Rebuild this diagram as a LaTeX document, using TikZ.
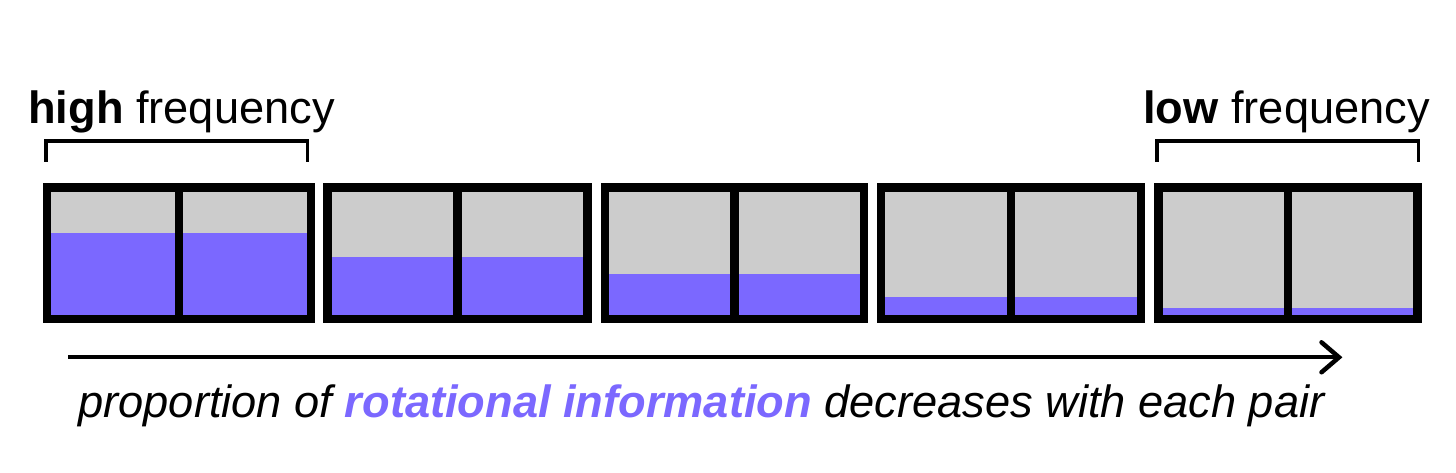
\documentclass[tikz,border=0pt]{standalone}
\usepackage{fontspec}
\setmainfont{Liberation Sans}
\definecolor{rot}{RGB}{123,104,255}
\definecolor{emptyc}{RGB}{204,204,204}
\begin{document}
\begin{tikzpicture}[x=1pt,y=-1pt,
  frame/.style={draw=black,line width=8.4pt},
  divider/.style={draw=black,line width=8.7pt},
  bracket/.style={draw=black,line width=3.6pt,line join=miter},
  label/.style={inner sep=0pt,font=\fontsize{45.2}{50}\selectfont},
  caption/.style={inner sep=0pt,font=\fontsize{45.2}{50}\selectfont\itshape},
  arrowline/.style={draw=black,line width=4pt},
  chevron/.style={draw=black,line width=4.5pt,line cap=round,line join=miter}]
\useasboundingbox (0,0) rectangle (1456,473);
\fill[white] (0,0) rectangle (1456,473);
\foreach \l/\r/\p [count=\i] in {42.7/315/233.3, 323.3/591.7/256.7, 600.7/868.3/273.7, 876.7/1145/297.3, 1154.3/1421.7/307.7}{
  \pgfmathsetmacro{\m}{(\l+\r)/2}
  \fill[emptyc] (\l,183.3) rectangle (\r,323.3);
  \fill[rot] (\l,\p) rectangle (\r,323.3);
  \draw[frame] (\l+4.2,187.5) rectangle (\r-4.2,319.1);
  \draw[divider] (\m,183.3) -- (\m,323.3);
  \coordinate (pair\i) at (\m,253.3);
}
% labels
\node[label,anchor=base west] (hf) at (28,124) {\textbf{high} frequency};
\node[label,anchor=base east] (lf) at (1430,124) {\textbf{low} frequency};
% brackets
\coordinate (hb1) at (45.7,161.7);
\coordinate (hb2) at (307.3,161.7);
\coordinate (lb1) at (1156.7,161.7);
\coordinate (lb2) at (1418.3,161.7);
\draw[bracket] (hb1) -- ++(0,-20.7) -| (hb2);
\draw[bracket] (lb1) -- ++(0,-20.7) -| (lb2);
% arrow
\coordinate (as) at (68.3,357.3);
\coordinate (ae) at (1339,357.3);
\draw[arrowline] (as) -- (ae);
\draw[chevron] ([xshift=-17.5pt,yshift=-15pt]ae) -- (ae) -- ([xshift=-17.5pt,yshift=15pt]ae);
% caption
\node[caption,anchor=base west] (cap) at (78.3,417) {proportion of \textcolor{rot}{\bfseries rotational information} decreases with each pair};
\end{tikzpicture}
\end{document}
